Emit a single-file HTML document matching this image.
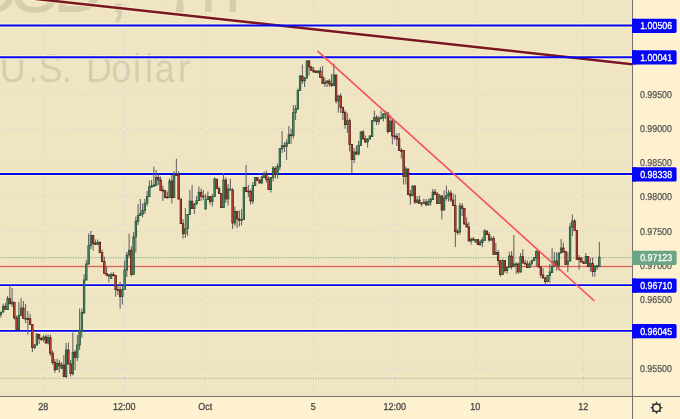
<!DOCTYPE html>
<html><head><meta charset="utf-8"><title>EURUSD chart</title>
<style>
html,body{margin:0;padding:0;background:#fef1cf;}
body{width:680px;height:419px;overflow:hidden;position:relative;font-family:"Liberation Sans",sans-serif;}
svg{position:absolute;left:0;top:0;display:block}
text{font-family:"Liberation Sans",sans-serif;text-rendering:geometricPrecision;}
</style></head><body>
<svg width="680" height="419" viewBox="0 0 680 419">
<rect x="0" y="0" width="680" height="419" fill="#fef1cf"/>
<rect x="0" y="0" width="632" height="396" fill="#efe5c2"/>
<defs><clipPath id="c"><rect x="0" y="0" width="632" height="396"/></clipPath></defs>
<g clip-path="url(#c)">

<clipPath id="w1"><rect x="-60" y="-80" width="224" height="120"/><rect x="176" y="-80" width="7.6" height="120"/><rect x="196.5" y="-80" width="200" height="120"/></clipPath>
<g fill="#000" fill-opacity="0.1">
<g clip-path="url(#w1)"><text transform="translate(0,12.4) scale(0.92,1)" x="-35.9 11.8 57.0 117.6 141.3 172.0 217.4" y="0" font-size="80">USD, 1h</text></g>
<text transform="translate(0,82.3) scale(0.9,1)" x="-0.2 31.4 42.7 68.6 83.3 95.6 123.6 147.8 161.1 171.9 197.9" y="0" font-size="40">U.S. Dollar</text>
</g>
<line x1="43.5" y1="0" x2="43.5" y2="396" stroke="#d5d7db" stroke-width="1" stroke-opacity="0.78" stroke-dasharray="4.4,4.69" stroke-dashoffset="6.1"/>
<line x1="124.5" y1="0" x2="124.5" y2="396" stroke="#d5d7db" stroke-width="1" stroke-opacity="0.78" stroke-dasharray="4.4,4.69" stroke-dashoffset="6.1"/>
<line x1="205.5" y1="0" x2="205.5" y2="396" stroke="#d5d7db" stroke-width="1" stroke-opacity="0.78" stroke-dasharray="4.4,4.69" stroke-dashoffset="6.1"/>
<line x1="313.5" y1="0" x2="313.5" y2="396" stroke="#d5d7db" stroke-width="1" stroke-opacity="0.78" stroke-dasharray="4.4,4.69" stroke-dashoffset="6.1"/>
<line x1="394.5" y1="0" x2="394.5" y2="396" stroke="#d5d7db" stroke-width="1" stroke-opacity="0.78" stroke-dasharray="4.4,4.69" stroke-dashoffset="6.1"/>
<line x1="475.5" y1="0" x2="475.5" y2="396" stroke="#d5d7db" stroke-width="1" stroke-opacity="0.78" stroke-dasharray="4.4,4.69" stroke-dashoffset="6.1"/>
<line x1="583.5" y1="0" x2="583.5" y2="396" stroke="#d5d7db" stroke-width="1" stroke-opacity="0.78" stroke-dasharray="4.4,4.69" stroke-dashoffset="6.1"/>
<line x1="0" y1="25.8" x2="632" y2="25.8" stroke="#d5d7db" stroke-width="1" stroke-opacity="0.78" stroke-dasharray="4.4,4.69" stroke-dashoffset="0.99"/>
<line x1="0" y1="60.0" x2="632" y2="60.0" stroke="#d5d7db" stroke-width="1" stroke-opacity="0.78" stroke-dasharray="4.4,4.69" stroke-dashoffset="0.99"/>
<line x1="0" y1="94.3" x2="632" y2="94.3" stroke="#d5d7db" stroke-width="1" stroke-opacity="0.78" stroke-dasharray="4.4,4.69" stroke-dashoffset="0.99"/>
<line x1="0" y1="128.6" x2="632" y2="128.6" stroke="#d5d7db" stroke-width="1" stroke-opacity="0.78" stroke-dasharray="4.4,4.69" stroke-dashoffset="0.99"/>
<line x1="0" y1="162.8" x2="632" y2="162.8" stroke="#d5d7db" stroke-width="1" stroke-opacity="0.78" stroke-dasharray="4.4,4.69" stroke-dashoffset="0.99"/>
<line x1="0" y1="197.1" x2="632" y2="197.1" stroke="#d5d7db" stroke-width="1" stroke-opacity="0.78" stroke-dasharray="4.4,4.69" stroke-dashoffset="0.99"/>
<line x1="0" y1="231.3" x2="632" y2="231.3" stroke="#d5d7db" stroke-width="1" stroke-opacity="0.78" stroke-dasharray="4.4,4.69" stroke-dashoffset="0.99"/>
<line x1="0" y1="265.6" x2="632" y2="265.6" stroke="#d5d7db" stroke-width="1" stroke-opacity="0.78" stroke-dasharray="4.4,4.69" stroke-dashoffset="0.99"/>
<line x1="0" y1="299.8" x2="632" y2="299.8" stroke="#d5d7db" stroke-width="1" stroke-opacity="0.78" stroke-dasharray="4.4,4.69" stroke-dashoffset="0.99"/>
<line x1="0" y1="334.1" x2="632" y2="334.1" stroke="#d5d7db" stroke-width="1" stroke-opacity="0.78" stroke-dasharray="4.4,4.69" stroke-dashoffset="0.99"/>
<line x1="0" y1="368.3" x2="632" y2="368.3" stroke="#d5d7db" stroke-width="1" stroke-opacity="0.78" stroke-dasharray="4.4,4.69" stroke-dashoffset="0.99"/>
<line x1="0" y1="378.2" x2="632" y2="378.2" stroke="#7d7d80" stroke-opacity="0.7" stroke-width="1.1" stroke-dasharray="1.1,1.4" stroke-dashoffset="1.95"/>
<line x1="0" y1="257.6" x2="632" y2="257.6" stroke="#5a9e7a" stroke-opacity="0.72" stroke-width="1.1" stroke-dasharray="1.1,1.4" stroke-dashoffset="1.95"/>
<line x1="0" y1="25.45" x2="632" y2="25.45" stroke="#fbf2c8" stroke-width="4.5"/>
<line x1="0" y1="57.2" x2="632" y2="57.2" stroke="#fbf2c8" stroke-width="4.5"/>
<line x1="0" y1="174.0" x2="632" y2="174.0" stroke="#fbf2c8" stroke-width="4.5"/>
<line x1="0" y1="285.15" x2="632" y2="285.15" stroke="#fbf2c8" stroke-width="4.5"/>
<line x1="0" y1="330.85" x2="632" y2="330.85" stroke="#fbf2c8" stroke-width="4.5"/>
<line x1="-10" y1="-6.05" x2="632" y2="64.15" stroke="#fbf2c8" stroke-opacity="0.7" stroke-width="4.5"/>
<line x1="0" y1="266.45" x2="632" y2="266.45" stroke="#fbf2c8" stroke-opacity="0.6" stroke-width="3.4"/>
<line x1="-10" y1="-6.05" x2="632" y2="64.15" stroke="#7a1526" stroke-width="2.5"/>
<line x1="0" y1="266.45" x2="632" y2="266.45" stroke="#dc655e" stroke-width="1.4"/>
<line x1="0" y1="25.45" x2="632" y2="25.45" stroke="#0606f6" stroke-width="1.9"/>
<line x1="0" y1="57.2" x2="632" y2="57.2" stroke="#0606f6" stroke-width="1.9"/>
<line x1="0" y1="174.0" x2="632" y2="174.0" stroke="#0606f6" stroke-width="1.9"/>
<line x1="0" y1="285.15" x2="632" y2="285.15" stroke="#0606f6" stroke-width="1.9"/>
<line x1="0" y1="330.85" x2="632" y2="330.85" stroke="#0606f6" stroke-width="1.9"/>
<line x1="0.85" y1="312.0" x2="0.85" y2="317.5" stroke="#5c5c5e" stroke-width="1"/>
<rect x="0.10" y="312.1" width="1.5" height="2.5" fill="#4f9670" stroke="#225437" stroke-width="0.8"/>
<line x1="3.10" y1="303.6" x2="3.10" y2="312.3" stroke="#5c5c5e" stroke-width="1"/>
<rect x="2.35" y="306.3" width="1.5" height="5.8" fill="#4f9670" stroke="#225437" stroke-width="0.8"/>
<line x1="5.35" y1="303.0" x2="5.35" y2="309.8" stroke="#5c5c5e" stroke-width="1"/>
<rect x="4.60" y="306.3" width="1.5" height="3.3" fill="#d04a38" stroke="#5b1a13" stroke-width="0.8"/>
<line x1="7.60" y1="296.0" x2="7.60" y2="309.8" stroke="#5c5c5e" stroke-width="1"/>
<rect x="6.85" y="298.6" width="1.5" height="11.0" fill="#4f9670" stroke="#225437" stroke-width="0.8"/>
<line x1="9.85" y1="285.0" x2="9.85" y2="304.0" stroke="#5c5c5e" stroke-width="1"/>
<rect x="9.10" y="298.6" width="1.5" height="5.2" fill="#d04a38" stroke="#5b1a13" stroke-width="0.8"/>
<line x1="12.10" y1="288.0" x2="12.10" y2="307.0" stroke="#5c5c5e" stroke-width="1"/>
<rect x="11.35" y="302.0" width="1.5" height="2.0" fill="#4f9670" stroke="#225437" stroke-width="0.8"/>
<line x1="14.35" y1="302.0" x2="14.35" y2="319.6" stroke="#5c5c5e" stroke-width="1"/>
<rect x="13.60" y="302.3" width="1.5" height="15.5" fill="#d04a38" stroke="#5b1a13" stroke-width="0.8"/>
<line x1="16.60" y1="315.6" x2="16.60" y2="329.8" stroke="#5c5c5e" stroke-width="1"/>
<rect x="15.85" y="317.8" width="1.5" height="11.8" fill="#d04a38" stroke="#5b1a13" stroke-width="0.8"/>
<line x1="18.85" y1="302.0" x2="18.85" y2="329.8" stroke="#5c5c5e" stroke-width="1"/>
<rect x="18.10" y="315.5" width="1.5" height="14.1" fill="#4f9670" stroke="#225437" stroke-width="0.8"/>
<line x1="21.10" y1="298.0" x2="21.10" y2="315.6" stroke="#5c5c5e" stroke-width="1"/>
<rect x="20.35" y="308.0" width="1.5" height="7.5" fill="#4f9670" stroke="#225437" stroke-width="0.8"/>
<line x1="23.35" y1="301.0" x2="23.35" y2="319.0" stroke="#5c5c5e" stroke-width="1"/>
<rect x="22.60" y="308.0" width="1.5" height="10.5" fill="#d04a38" stroke="#5b1a13" stroke-width="0.8"/>
<line x1="25.60" y1="304.0" x2="25.60" y2="323.0" stroke="#5c5c5e" stroke-width="1"/>
<rect x="24.85" y="318.3" width="1.5" height="1.0" fill="#4f9670" stroke="#225437" stroke-width="0.8"/>
<line x1="27.85" y1="311.0" x2="27.85" y2="334.6" stroke="#5c5c5e" stroke-width="1"/>
<rect x="27.10" y="318.5" width="1.5" height="1.0" fill="#d04a38" stroke="#5b1a13" stroke-width="0.8"/>
<line x1="30.10" y1="314.0" x2="30.10" y2="325.0" stroke="#5c5c5e" stroke-width="1"/>
<rect x="29.35" y="318.8" width="1.5" height="5.7" fill="#d04a38" stroke="#5b1a13" stroke-width="0.8"/>
<line x1="32.35" y1="324.0" x2="32.35" y2="352.0" stroke="#5c5c5e" stroke-width="1"/>
<rect x="31.60" y="324.5" width="1.5" height="23.1" fill="#d04a38" stroke="#5b1a13" stroke-width="0.8"/>
<line x1="34.60" y1="344.0" x2="34.60" y2="349.0" stroke="#5c5c5e" stroke-width="1"/>
<rect x="33.85" y="345.0" width="1.5" height="2.6" fill="#4f9670" stroke="#225437" stroke-width="0.8"/>
<line x1="36.85" y1="333.5" x2="36.85" y2="345.5" stroke="#5c5c5e" stroke-width="1"/>
<rect x="36.10" y="334.0" width="1.5" height="11.0" fill="#4f9670" stroke="#225437" stroke-width="0.8"/>
<line x1="39.10" y1="334.0" x2="39.10" y2="344.0" stroke="#5c5c5e" stroke-width="1"/>
<rect x="38.35" y="334.4" width="1.5" height="4.2" fill="#d04a38" stroke="#5b1a13" stroke-width="0.8"/>
<line x1="41.35" y1="337.0" x2="41.35" y2="341.0" stroke="#5c5c5e" stroke-width="1"/>
<rect x="40.60" y="338.4" width="1.5" height="1.2" fill="#d04a38" stroke="#5b1a13" stroke-width="0.8"/>
<line x1="43.60" y1="335.0" x2="43.60" y2="342.0" stroke="#5c5c5e" stroke-width="1"/>
<rect x="42.85" y="336.9" width="1.5" height="2.7" fill="#4f9670" stroke="#225437" stroke-width="0.8"/>
<line x1="45.85" y1="334.6" x2="45.85" y2="344.0" stroke="#5c5c5e" stroke-width="1"/>
<rect x="45.10" y="336.9" width="1.5" height="6.0" fill="#d04a38" stroke="#5b1a13" stroke-width="0.8"/>
<line x1="48.10" y1="334.6" x2="48.10" y2="344.6" stroke="#5c5c5e" stroke-width="1"/>
<rect x="47.35" y="337.6" width="1.5" height="5.3" fill="#4f9670" stroke="#225437" stroke-width="0.8"/>
<line x1="50.35" y1="334.6" x2="50.35" y2="356.0" stroke="#5c5c5e" stroke-width="1"/>
<rect x="49.60" y="337.6" width="1.5" height="15.9" fill="#d04a38" stroke="#5b1a13" stroke-width="0.8"/>
<line x1="52.60" y1="350.5" x2="52.60" y2="364.6" stroke="#5c5c5e" stroke-width="1"/>
<rect x="51.85" y="353.0" width="1.5" height="9.6" fill="#d04a38" stroke="#5b1a13" stroke-width="0.8"/>
<line x1="54.85" y1="359.0" x2="54.85" y2="373.0" stroke="#5c5c5e" stroke-width="1"/>
<rect x="54.10" y="362.3" width="1.5" height="7.6" fill="#d04a38" stroke="#5b1a13" stroke-width="0.8"/>
<line x1="57.10" y1="358.9" x2="57.10" y2="370.0" stroke="#5c5c5e" stroke-width="1"/>
<rect x="56.35" y="363.3" width="1.5" height="6.3" fill="#4f9670" stroke="#225437" stroke-width="0.8"/>
<line x1="59.35" y1="360.0" x2="59.35" y2="372.6" stroke="#5c5c5e" stroke-width="1"/>
<rect x="58.60" y="363.3" width="1.5" height="2.7" fill="#d04a38" stroke="#5b1a13" stroke-width="0.8"/>
<line x1="61.60" y1="362.0" x2="61.60" y2="369.0" stroke="#5c5c5e" stroke-width="1"/>
<rect x="60.85" y="365.0" width="1.5" height="3.3" fill="#4f9670" stroke="#225437" stroke-width="0.8"/>
<line x1="63.85" y1="355.0" x2="63.85" y2="377.0" stroke="#5c5c5e" stroke-width="1"/>
<rect x="63.10" y="365.0" width="1.5" height="11.6" fill="#d04a38" stroke="#5b1a13" stroke-width="0.8"/>
<line x1="66.10" y1="343.0" x2="66.10" y2="378.0" stroke="#5c5c5e" stroke-width="1"/>
<rect x="65.35" y="350.0" width="1.5" height="26.6" fill="#4f9670" stroke="#225437" stroke-width="0.8"/>
<line x1="68.35" y1="342.5" x2="68.35" y2="364.5" stroke="#5c5c5e" stroke-width="1"/>
<rect x="67.60" y="350.0" width="1.5" height="14.0" fill="#d04a38" stroke="#5b1a13" stroke-width="0.8"/>
<line x1="70.60" y1="360.0" x2="70.60" y2="376.6" stroke="#5c5c5e" stroke-width="1"/>
<rect x="69.85" y="364.0" width="1.5" height="9.6" fill="#d04a38" stroke="#5b1a13" stroke-width="0.8"/>
<line x1="72.85" y1="332.6" x2="72.85" y2="375.5" stroke="#5c5c5e" stroke-width="1"/>
<rect x="72.10" y="352.2" width="1.5" height="21.4" fill="#4f9670" stroke="#225437" stroke-width="0.8"/>
<line x1="75.10" y1="350.0" x2="75.10" y2="370.0" stroke="#5c5c5e" stroke-width="1"/>
<rect x="74.35" y="352.2" width="1.5" height="5.3" fill="#d04a38" stroke="#5b1a13" stroke-width="0.8"/>
<line x1="77.35" y1="335.0" x2="77.35" y2="361.0" stroke="#5c5c5e" stroke-width="1"/>
<rect x="76.60" y="345.0" width="1.5" height="12.5" fill="#4f9670" stroke="#225437" stroke-width="0.8"/>
<line x1="79.60" y1="308.5" x2="79.60" y2="350.0" stroke="#5c5c5e" stroke-width="1"/>
<rect x="78.85" y="330.6" width="1.5" height="14.4" fill="#4f9670" stroke="#225437" stroke-width="0.8"/>
<line x1="81.85" y1="308.5" x2="81.85" y2="337.6" stroke="#5c5c5e" stroke-width="1"/>
<rect x="81.10" y="312.5" width="1.5" height="18.5" fill="#4f9670" stroke="#225437" stroke-width="0.8"/>
<line x1="84.10" y1="274.0" x2="84.10" y2="313.5" stroke="#5c5c5e" stroke-width="1"/>
<rect x="83.35" y="280.0" width="1.5" height="33.0" fill="#4f9670" stroke="#225437" stroke-width="0.8"/>
<line x1="86.35" y1="260.0" x2="86.35" y2="280.5" stroke="#5c5c5e" stroke-width="1"/>
<rect x="85.60" y="264.0" width="1.5" height="16.0" fill="#4f9670" stroke="#225437" stroke-width="0.8"/>
<line x1="88.60" y1="233.5" x2="88.60" y2="264.5" stroke="#5c5c5e" stroke-width="1"/>
<rect x="87.85" y="245.6" width="1.5" height="18.4" fill="#4f9670" stroke="#225437" stroke-width="0.8"/>
<line x1="90.85" y1="231.0" x2="90.85" y2="249.0" stroke="#5c5c5e" stroke-width="1"/>
<rect x="90.10" y="235.5" width="1.5" height="10.1" fill="#4f9670" stroke="#225437" stroke-width="0.8"/>
<line x1="93.10" y1="235.0" x2="93.10" y2="250.6" stroke="#5c5c5e" stroke-width="1"/>
<rect x="92.35" y="235.5" width="1.5" height="8.0" fill="#d04a38" stroke="#5b1a13" stroke-width="0.8"/>
<line x1="95.35" y1="239.5" x2="95.35" y2="245.0" stroke="#5c5c5e" stroke-width="1"/>
<rect x="94.60" y="243.0" width="1.5" height="1.5" fill="#d04a38" stroke="#5b1a13" stroke-width="0.8"/>
<line x1="97.60" y1="239.5" x2="97.60" y2="245.0" stroke="#5c5c5e" stroke-width="1"/>
<rect x="96.85" y="242.5" width="1.5" height="1.7" fill="#4f9670" stroke="#225437" stroke-width="0.8"/>
<line x1="99.85" y1="241.0" x2="99.85" y2="253.0" stroke="#5c5c5e" stroke-width="1"/>
<rect x="99.10" y="242.5" width="1.5" height="10.1" fill="#d04a38" stroke="#5b1a13" stroke-width="0.8"/>
<line x1="102.10" y1="249.6" x2="102.10" y2="262.0" stroke="#5c5c5e" stroke-width="1"/>
<rect x="101.35" y="252.6" width="1.5" height="9.0" fill="#d04a38" stroke="#5b1a13" stroke-width="0.8"/>
<line x1="104.35" y1="256.6" x2="104.35" y2="274.0" stroke="#5c5c5e" stroke-width="1"/>
<rect x="103.60" y="261.6" width="1.5" height="11.9" fill="#d04a38" stroke="#5b1a13" stroke-width="0.8"/>
<line x1="106.60" y1="266.0" x2="106.60" y2="276.0" stroke="#5c5c5e" stroke-width="1"/>
<rect x="105.85" y="273.5" width="1.5" height="2.0" fill="#d04a38" stroke="#5b1a13" stroke-width="0.8"/>
<line x1="108.85" y1="274.0" x2="108.85" y2="282.5" stroke="#5c5c5e" stroke-width="1"/>
<rect x="108.10" y="275.0" width="1.5" height="1.0" fill="#d04a38" stroke="#5b1a13" stroke-width="0.8"/>
<line x1="111.10" y1="272.5" x2="111.10" y2="279.0" stroke="#5c5c5e" stroke-width="1"/>
<rect x="110.35" y="274.5" width="1.5" height="4.0" fill="#4f9670" stroke="#225437" stroke-width="0.8"/>
<line x1="113.35" y1="272.0" x2="113.35" y2="276.0" stroke="#5c5c5e" stroke-width="1"/>
<rect x="112.60" y="274.5" width="1.5" height="1.3" fill="#d04a38" stroke="#5b1a13" stroke-width="0.8"/>
<line x1="115.60" y1="275.0" x2="115.60" y2="296.6" stroke="#5c5c5e" stroke-width="1"/>
<rect x="114.85" y="275.5" width="1.5" height="14.1" fill="#d04a38" stroke="#5b1a13" stroke-width="0.8"/>
<line x1="117.85" y1="285.5" x2="117.85" y2="295.0" stroke="#5c5c5e" stroke-width="1"/>
<rect x="117.10" y="289.6" width="1.5" height="1.0" fill="#d04a38" stroke="#5b1a13" stroke-width="0.8"/>
<line x1="120.10" y1="282.0" x2="120.10" y2="308.5" stroke="#5c5c5e" stroke-width="1"/>
<rect x="119.35" y="289.9" width="1.5" height="6.7" fill="#d04a38" stroke="#5b1a13" stroke-width="0.8"/>
<line x1="122.35" y1="286.0" x2="122.35" y2="304.5" stroke="#5c5c5e" stroke-width="1"/>
<rect x="121.60" y="289.6" width="1.5" height="7.0" fill="#4f9670" stroke="#225437" stroke-width="0.8"/>
<line x1="124.60" y1="260.6" x2="124.60" y2="290.0" stroke="#5c5c5e" stroke-width="1"/>
<rect x="123.85" y="270.0" width="1.5" height="19.6" fill="#4f9670" stroke="#225437" stroke-width="0.8"/>
<line x1="126.85" y1="252.0" x2="126.85" y2="277.0" stroke="#5c5c5e" stroke-width="1"/>
<rect x="126.10" y="255.0" width="1.5" height="15.0" fill="#4f9670" stroke="#225437" stroke-width="0.8"/>
<line x1="129.10" y1="233.5" x2="129.10" y2="258.0" stroke="#5c5c5e" stroke-width="1"/>
<rect x="128.35" y="250.3" width="1.5" height="4.7" fill="#4f9670" stroke="#225437" stroke-width="0.8"/>
<line x1="131.35" y1="246.5" x2="131.35" y2="276.5" stroke="#5c5c5e" stroke-width="1"/>
<rect x="130.60" y="250.3" width="1.5" height="24.2" fill="#d04a38" stroke="#5b1a13" stroke-width="0.8"/>
<line x1="133.60" y1="232.0" x2="133.60" y2="275.0" stroke="#5c5c5e" stroke-width="1"/>
<rect x="132.85" y="237.0" width="1.5" height="37.5" fill="#4f9670" stroke="#225437" stroke-width="0.8"/>
<line x1="135.85" y1="216.5" x2="135.85" y2="252.5" stroke="#5c5c5e" stroke-width="1"/>
<rect x="135.10" y="221.0" width="1.5" height="16.0" fill="#4f9670" stroke="#225437" stroke-width="0.8"/>
<line x1="138.10" y1="204.0" x2="138.10" y2="225.0" stroke="#5c5c5e" stroke-width="1"/>
<rect x="137.35" y="215.4" width="1.5" height="6.2" fill="#4f9670" stroke="#225437" stroke-width="0.8"/>
<line x1="140.35" y1="199.0" x2="140.35" y2="216.0" stroke="#5c5c5e" stroke-width="1"/>
<rect x="139.60" y="213.5" width="1.5" height="1.9" fill="#4f9670" stroke="#225437" stroke-width="0.8"/>
<line x1="142.60" y1="203.5" x2="142.60" y2="217.5" stroke="#5c5c5e" stroke-width="1"/>
<rect x="141.85" y="210.5" width="1.5" height="3.5" fill="#4f9670" stroke="#225437" stroke-width="0.8"/>
<line x1="144.85" y1="199.0" x2="144.85" y2="214.0" stroke="#5c5c5e" stroke-width="1"/>
<rect x="144.10" y="203.2" width="1.5" height="7.3" fill="#4f9670" stroke="#225437" stroke-width="0.8"/>
<line x1="147.10" y1="191.0" x2="147.10" y2="206.0" stroke="#5c5c5e" stroke-width="1"/>
<rect x="146.35" y="196.6" width="1.5" height="6.6" fill="#4f9670" stroke="#225437" stroke-width="0.8"/>
<line x1="149.35" y1="180.5" x2="149.35" y2="197.0" stroke="#5c5c5e" stroke-width="1"/>
<rect x="148.60" y="186.6" width="1.5" height="10.0" fill="#4f9670" stroke="#225437" stroke-width="0.8"/>
<line x1="151.60" y1="180.0" x2="151.60" y2="188.0" stroke="#5c5c5e" stroke-width="1"/>
<rect x="150.85" y="185.6" width="1.5" height="1.4" fill="#4f9670" stroke="#225437" stroke-width="0.8"/>
<line x1="153.85" y1="166.5" x2="153.85" y2="187.0" stroke="#5c5c5e" stroke-width="1"/>
<rect x="153.10" y="185.0" width="1.5" height="1.3" fill="#4f9670" stroke="#225437" stroke-width="0.8"/>
<line x1="156.10" y1="170.0" x2="156.10" y2="186.0" stroke="#5c5c5e" stroke-width="1"/>
<rect x="155.35" y="177.5" width="1.5" height="8.1" fill="#4f9670" stroke="#225437" stroke-width="0.8"/>
<line x1="158.35" y1="174.5" x2="158.35" y2="185.0" stroke="#5c5c5e" stroke-width="1"/>
<rect x="157.60" y="177.5" width="1.5" height="2.5" fill="#d04a38" stroke="#5b1a13" stroke-width="0.8"/>
<line x1="160.60" y1="176.5" x2="160.60" y2="191.0" stroke="#5c5c5e" stroke-width="1"/>
<rect x="159.85" y="180.0" width="1.5" height="10.6" fill="#d04a38" stroke="#5b1a13" stroke-width="0.8"/>
<line x1="162.85" y1="185.6" x2="162.85" y2="201.0" stroke="#5c5c5e" stroke-width="1"/>
<rect x="162.10" y="190.0" width="1.5" height="1.0" fill="#d04a38" stroke="#5b1a13" stroke-width="0.8"/>
<line x1="165.10" y1="190.0" x2="165.10" y2="198.0" stroke="#5c5c5e" stroke-width="1"/>
<rect x="164.35" y="190.6" width="1.5" height="7.0" fill="#d04a38" stroke="#5b1a13" stroke-width="0.8"/>
<line x1="167.35" y1="191.5" x2="167.35" y2="198.0" stroke="#5c5c5e" stroke-width="1"/>
<rect x="166.60" y="197.0" width="1.5" height="1.0" fill="#d04a38" stroke="#5b1a13" stroke-width="0.8"/>
<line x1="169.60" y1="178.5" x2="169.60" y2="198.0" stroke="#5c5c5e" stroke-width="1"/>
<rect x="168.85" y="181.0" width="1.5" height="16.6" fill="#4f9670" stroke="#225437" stroke-width="0.8"/>
<line x1="171.85" y1="175.0" x2="171.85" y2="203.5" stroke="#5c5c5e" stroke-width="1"/>
<rect x="171.10" y="181.0" width="1.5" height="16.6" fill="#d04a38" stroke="#5b1a13" stroke-width="0.8"/>
<line x1="174.10" y1="171.0" x2="174.10" y2="198.0" stroke="#5c5c5e" stroke-width="1"/>
<rect x="173.35" y="174.5" width="1.5" height="23.1" fill="#4f9670" stroke="#225437" stroke-width="0.8"/>
<line x1="176.35" y1="158.7" x2="176.35" y2="176.0" stroke="#5c5c5e" stroke-width="1"/>
<rect x="175.60" y="174.5" width="1.5" height="1.0" fill="#d04a38" stroke="#5b1a13" stroke-width="0.8"/>
<line x1="178.60" y1="171.0" x2="178.60" y2="199.5" stroke="#5c5c5e" stroke-width="1"/>
<rect x="177.85" y="175.0" width="1.5" height="24.0" fill="#d04a38" stroke="#5b1a13" stroke-width="0.8"/>
<line x1="180.85" y1="199.0" x2="180.85" y2="224.0" stroke="#5c5c5e" stroke-width="1"/>
<rect x="180.10" y="199.0" width="1.5" height="24.6" fill="#d04a38" stroke="#5b1a13" stroke-width="0.8"/>
<line x1="183.10" y1="219.0" x2="183.10" y2="238.5" stroke="#5c5c5e" stroke-width="1"/>
<rect x="182.35" y="223.6" width="1.5" height="10.0" fill="#d04a38" stroke="#5b1a13" stroke-width="0.8"/>
<line x1="185.35" y1="208.0" x2="185.35" y2="238.0" stroke="#5c5c5e" stroke-width="1"/>
<rect x="184.60" y="228.6" width="1.5" height="5.0" fill="#4f9670" stroke="#225437" stroke-width="0.8"/>
<line x1="187.60" y1="214.0" x2="187.60" y2="236.0" stroke="#5c5c5e" stroke-width="1"/>
<rect x="186.85" y="214.5" width="1.5" height="14.1" fill="#4f9670" stroke="#225437" stroke-width="0.8"/>
<line x1="189.85" y1="190.0" x2="189.85" y2="215.0" stroke="#5c5c5e" stroke-width="1"/>
<rect x="189.10" y="201.0" width="1.5" height="13.5" fill="#4f9670" stroke="#225437" stroke-width="0.8"/>
<line x1="192.10" y1="185.0" x2="192.10" y2="209.0" stroke="#5c5c5e" stroke-width="1"/>
<rect x="191.35" y="201.3" width="1.5" height="7.3" fill="#d04a38" stroke="#5b1a13" stroke-width="0.8"/>
<line x1="194.35" y1="203.0" x2="194.35" y2="214.0" stroke="#5c5c5e" stroke-width="1"/>
<rect x="193.60" y="204.0" width="1.5" height="4.6" fill="#4f9670" stroke="#225437" stroke-width="0.8"/>
<line x1="196.60" y1="196.0" x2="196.60" y2="204.5" stroke="#5c5c5e" stroke-width="1"/>
<rect x="195.85" y="200.6" width="1.5" height="3.4" fill="#4f9670" stroke="#225437" stroke-width="0.8"/>
<line x1="198.85" y1="186.5" x2="198.85" y2="201.0" stroke="#5c5c5e" stroke-width="1"/>
<rect x="198.10" y="192.3" width="1.5" height="8.3" fill="#4f9670" stroke="#225437" stroke-width="0.8"/>
<line x1="201.10" y1="188.5" x2="201.10" y2="201.0" stroke="#5c5c5e" stroke-width="1"/>
<rect x="200.35" y="192.3" width="1.5" height="4.0" fill="#d04a38" stroke="#5b1a13" stroke-width="0.8"/>
<line x1="203.35" y1="190.0" x2="203.35" y2="200.0" stroke="#5c5c5e" stroke-width="1"/>
<rect x="202.60" y="196.0" width="1.5" height="1.0" fill="#d04a38" stroke="#5b1a13" stroke-width="0.8"/>
<line x1="205.60" y1="194.0" x2="205.60" y2="209.3" stroke="#5c5c5e" stroke-width="1"/>
<rect x="204.85" y="199.6" width="1.5" height="9.4" fill="#4f9670" stroke="#225437" stroke-width="0.8"/>
<line x1="207.85" y1="191.5" x2="207.85" y2="200.0" stroke="#5c5c5e" stroke-width="1"/>
<rect x="207.10" y="196.6" width="1.5" height="3.0" fill="#4f9670" stroke="#225437" stroke-width="0.8"/>
<line x1="210.10" y1="196.0" x2="210.10" y2="204.5" stroke="#5c5c5e" stroke-width="1"/>
<rect x="209.35" y="196.6" width="1.5" height="5.0" fill="#d04a38" stroke="#5b1a13" stroke-width="0.8"/>
<line x1="212.35" y1="194.0" x2="212.35" y2="206.5" stroke="#5c5c5e" stroke-width="1"/>
<rect x="211.60" y="196.6" width="1.5" height="5.0" fill="#4f9670" stroke="#225437" stroke-width="0.8"/>
<line x1="214.60" y1="177.5" x2="214.60" y2="197.0" stroke="#5c5c5e" stroke-width="1"/>
<rect x="213.85" y="179.0" width="1.5" height="17.6" fill="#4f9670" stroke="#225437" stroke-width="0.8"/>
<line x1="216.85" y1="179.0" x2="216.85" y2="189.0" stroke="#5c5c5e" stroke-width="1"/>
<rect x="216.10" y="179.2" width="1.5" height="9.4" fill="#d04a38" stroke="#5b1a13" stroke-width="0.8"/>
<line x1="219.10" y1="186.5" x2="219.10" y2="194.0" stroke="#5c5c5e" stroke-width="1"/>
<rect x="218.35" y="188.6" width="1.5" height="5.0" fill="#d04a38" stroke="#5b1a13" stroke-width="0.8"/>
<line x1="221.35" y1="193.0" x2="221.35" y2="208.0" stroke="#5c5c5e" stroke-width="1"/>
<rect x="220.60" y="193.6" width="1.5" height="14.0" fill="#d04a38" stroke="#5b1a13" stroke-width="0.8"/>
<line x1="223.60" y1="173.0" x2="223.60" y2="208.0" stroke="#5c5c5e" stroke-width="1"/>
<rect x="222.85" y="180.0" width="1.5" height="27.6" fill="#4f9670" stroke="#225437" stroke-width="0.8"/>
<line x1="225.85" y1="177.5" x2="225.85" y2="203.0" stroke="#5c5c5e" stroke-width="1"/>
<rect x="225.10" y="180.0" width="1.5" height="19.0" fill="#d04a38" stroke="#5b1a13" stroke-width="0.8"/>
<line x1="228.10" y1="184.0" x2="228.10" y2="205.6" stroke="#5c5c5e" stroke-width="1"/>
<rect x="227.35" y="189.0" width="1.5" height="10.0" fill="#4f9670" stroke="#225437" stroke-width="0.8"/>
<line x1="230.35" y1="178.5" x2="230.35" y2="191.0" stroke="#5c5c5e" stroke-width="1"/>
<rect x="229.60" y="189.0" width="1.5" height="1.0" fill="#4f9670" stroke="#225437" stroke-width="0.8"/>
<line x1="232.60" y1="188.0" x2="232.60" y2="229.0" stroke="#5c5c5e" stroke-width="1"/>
<rect x="231.85" y="190.0" width="1.5" height="33.0" fill="#d04a38" stroke="#5b1a13" stroke-width="0.8"/>
<line x1="234.85" y1="206.5" x2="234.85" y2="226.0" stroke="#5c5c5e" stroke-width="1"/>
<rect x="234.10" y="211.5" width="1.5" height="11.5" fill="#4f9670" stroke="#225437" stroke-width="0.8"/>
<line x1="237.10" y1="211.0" x2="237.10" y2="228.0" stroke="#5c5c5e" stroke-width="1"/>
<rect x="236.35" y="211.5" width="1.5" height="7.5" fill="#d04a38" stroke="#5b1a13" stroke-width="0.8"/>
<line x1="239.35" y1="210.5" x2="239.35" y2="226.5" stroke="#5c5c5e" stroke-width="1"/>
<rect x="238.60" y="219.0" width="1.5" height="1.5" fill="#d04a38" stroke="#5b1a13" stroke-width="0.8"/>
<line x1="241.60" y1="209.0" x2="241.60" y2="225.5" stroke="#5c5c5e" stroke-width="1"/>
<rect x="240.85" y="219.5" width="1.5" height="1.0" fill="#4f9670" stroke="#225437" stroke-width="0.8"/>
<line x1="243.85" y1="187.0" x2="243.85" y2="220.0" stroke="#5c5c5e" stroke-width="1"/>
<rect x="243.10" y="187.5" width="1.5" height="32.0" fill="#4f9670" stroke="#225437" stroke-width="0.8"/>
<line x1="246.10" y1="165.0" x2="246.10" y2="192.0" stroke="#5c5c5e" stroke-width="1"/>
<rect x="245.35" y="187.5" width="1.5" height="4.0" fill="#d04a38" stroke="#5b1a13" stroke-width="0.8"/>
<line x1="248.35" y1="185.0" x2="248.35" y2="197.0" stroke="#5c5c5e" stroke-width="1"/>
<rect x="247.60" y="191.0" width="1.5" height="1.0" fill="#d04a38" stroke="#5b1a13" stroke-width="0.8"/>
<line x1="250.60" y1="189.5" x2="250.60" y2="204.6" stroke="#5c5c5e" stroke-width="1"/>
<rect x="249.85" y="191.5" width="1.5" height="9.5" fill="#d04a38" stroke="#5b1a13" stroke-width="0.8"/>
<line x1="252.85" y1="182.0" x2="252.85" y2="204.0" stroke="#5c5c5e" stroke-width="1"/>
<rect x="252.10" y="185.6" width="1.5" height="15.4" fill="#4f9670" stroke="#225437" stroke-width="0.8"/>
<line x1="255.10" y1="177.0" x2="255.10" y2="186.0" stroke="#5c5c5e" stroke-width="1"/>
<rect x="254.35" y="177.5" width="1.5" height="8.1" fill="#4f9670" stroke="#225437" stroke-width="0.8"/>
<line x1="257.35" y1="177.0" x2="257.35" y2="181.0" stroke="#5c5c5e" stroke-width="1"/>
<rect x="256.60" y="177.5" width="1.5" height="3.0" fill="#d04a38" stroke="#5b1a13" stroke-width="0.8"/>
<line x1="259.60" y1="179.5" x2="259.60" y2="183.5" stroke="#5c5c5e" stroke-width="1"/>
<rect x="258.85" y="180.0" width="1.5" height="3.0" fill="#d04a38" stroke="#5b1a13" stroke-width="0.8"/>
<line x1="261.85" y1="175.5" x2="261.85" y2="183.5" stroke="#5c5c5e" stroke-width="1"/>
<rect x="261.10" y="177.0" width="1.5" height="6.0" fill="#4f9670" stroke="#225437" stroke-width="0.8"/>
<line x1="264.10" y1="171.5" x2="264.10" y2="178.0" stroke="#5c5c5e" stroke-width="1"/>
<rect x="263.35" y="174.0" width="1.5" height="3.5" fill="#4f9670" stroke="#225437" stroke-width="0.8"/>
<line x1="266.35" y1="170.5" x2="266.35" y2="182.5" stroke="#5c5c5e" stroke-width="1"/>
<rect x="265.60" y="174.0" width="1.5" height="5.5" fill="#d04a38" stroke="#5b1a13" stroke-width="0.8"/>
<line x1="268.60" y1="176.5" x2="268.60" y2="190.0" stroke="#5c5c5e" stroke-width="1"/>
<rect x="267.85" y="179.0" width="1.5" height="10.6" fill="#d04a38" stroke="#5b1a13" stroke-width="0.8"/>
<line x1="270.85" y1="177.0" x2="270.85" y2="192.6" stroke="#5c5c5e" stroke-width="1"/>
<rect x="270.10" y="177.5" width="1.5" height="12.1" fill="#4f9670" stroke="#225437" stroke-width="0.8"/>
<line x1="273.10" y1="166.0" x2="273.10" y2="181.5" stroke="#5c5c5e" stroke-width="1"/>
<rect x="272.35" y="168.0" width="1.5" height="9.5" fill="#4f9670" stroke="#225437" stroke-width="0.8"/>
<line x1="275.35" y1="166.5" x2="275.35" y2="178.5" stroke="#5c5c5e" stroke-width="1"/>
<rect x="274.60" y="168.5" width="1.5" height="6.0" fill="#d04a38" stroke="#5b1a13" stroke-width="0.8"/>
<line x1="277.60" y1="163.5" x2="277.60" y2="178.5" stroke="#5c5c5e" stroke-width="1"/>
<rect x="276.85" y="166.5" width="1.5" height="8.0" fill="#4f9670" stroke="#225437" stroke-width="0.8"/>
<line x1="279.85" y1="148.0" x2="279.85" y2="170.0" stroke="#5c5c5e" stroke-width="1"/>
<rect x="279.10" y="148.6" width="1.5" height="18.2" fill="#4f9670" stroke="#225437" stroke-width="0.8"/>
<line x1="282.10" y1="131.0" x2="282.10" y2="153.0" stroke="#5c5c5e" stroke-width="1"/>
<rect x="281.35" y="145.6" width="1.5" height="3.0" fill="#4f9670" stroke="#225437" stroke-width="0.8"/>
<line x1="284.35" y1="142.0" x2="284.35" y2="152.0" stroke="#5c5c5e" stroke-width="1"/>
<rect x="283.60" y="145.6" width="1.5" height="1.0" fill="#d04a38" stroke="#5b1a13" stroke-width="0.8"/>
<line x1="286.60" y1="139.5" x2="286.60" y2="160.0" stroke="#5c5c5e" stroke-width="1"/>
<rect x="285.85" y="143.0" width="1.5" height="3.3" fill="#4f9670" stroke="#225437" stroke-width="0.8"/>
<line x1="288.85" y1="126.0" x2="288.85" y2="144.0" stroke="#5c5c5e" stroke-width="1"/>
<rect x="288.10" y="134.8" width="1.5" height="8.5" fill="#4f9670" stroke="#225437" stroke-width="0.8"/>
<line x1="291.10" y1="129.0" x2="291.10" y2="144.0" stroke="#5c5c5e" stroke-width="1"/>
<rect x="290.35" y="134.8" width="1.5" height="1.0" fill="#d04a38" stroke="#5b1a13" stroke-width="0.8"/>
<line x1="293.35" y1="105.0" x2="293.35" y2="138.5" stroke="#5c5c5e" stroke-width="1"/>
<rect x="292.60" y="112.6" width="1.5" height="22.9" fill="#4f9670" stroke="#225437" stroke-width="0.8"/>
<line x1="295.60" y1="105.0" x2="295.60" y2="120.0" stroke="#5c5c5e" stroke-width="1"/>
<rect x="294.85" y="108.6" width="1.5" height="4.0" fill="#4f9670" stroke="#225437" stroke-width="0.8"/>
<line x1="297.85" y1="88.5" x2="297.85" y2="109.5" stroke="#5c5c5e" stroke-width="1"/>
<rect x="297.10" y="90.5" width="1.5" height="18.5" fill="#4f9670" stroke="#225437" stroke-width="0.8"/>
<line x1="300.10" y1="75.0" x2="300.10" y2="91.0" stroke="#5c5c5e" stroke-width="1"/>
<rect x="299.35" y="76.0" width="1.5" height="14.5" fill="#4f9670" stroke="#225437" stroke-width="0.8"/>
<line x1="302.35" y1="64.5" x2="302.35" y2="84.0" stroke="#5c5c5e" stroke-width="1"/>
<rect x="301.60" y="76.0" width="1.5" height="5.0" fill="#d04a38" stroke="#5b1a13" stroke-width="0.8"/>
<line x1="304.60" y1="77.0" x2="304.60" y2="87.0" stroke="#5c5c5e" stroke-width="1"/>
<rect x="303.85" y="78.0" width="1.5" height="3.0" fill="#4f9670" stroke="#225437" stroke-width="0.8"/>
<line x1="306.85" y1="60.0" x2="306.85" y2="78.5" stroke="#5c5c5e" stroke-width="1"/>
<rect x="306.10" y="61.0" width="1.5" height="17.0" fill="#4f9670" stroke="#225437" stroke-width="0.8"/>
<line x1="309.10" y1="60.0" x2="309.10" y2="75.5" stroke="#5c5c5e" stroke-width="1"/>
<rect x="308.35" y="61.0" width="1.5" height="6.0" fill="#d04a38" stroke="#5b1a13" stroke-width="0.8"/>
<line x1="311.35" y1="66.0" x2="311.35" y2="71.0" stroke="#5c5c5e" stroke-width="1"/>
<rect x="310.60" y="67.0" width="1.5" height="3.5" fill="#d04a38" stroke="#5b1a13" stroke-width="0.8"/>
<line x1="313.60" y1="67.0" x2="313.60" y2="72.5" stroke="#5c5c5e" stroke-width="1"/>
<rect x="312.85" y="70.5" width="1.5" height="1.5" fill="#d04a38" stroke="#5b1a13" stroke-width="0.8"/>
<line x1="315.85" y1="70.0" x2="315.85" y2="73.0" stroke="#5c5c5e" stroke-width="1"/>
<rect x="315.10" y="71.5" width="1.5" height="1.0" fill="#d04a38" stroke="#5b1a13" stroke-width="0.8"/>
<line x1="318.10" y1="70.0" x2="318.10" y2="73.5" stroke="#5c5c5e" stroke-width="1"/>
<rect x="317.35" y="71.0" width="1.5" height="1.5" fill="#4f9670" stroke="#225437" stroke-width="0.8"/>
<line x1="320.35" y1="67.0" x2="320.35" y2="78.0" stroke="#5c5c5e" stroke-width="1"/>
<rect x="319.60" y="71.0" width="1.5" height="6.5" fill="#d04a38" stroke="#5b1a13" stroke-width="0.8"/>
<line x1="322.60" y1="66.0" x2="322.60" y2="84.0" stroke="#5c5c5e" stroke-width="1"/>
<rect x="321.85" y="77.0" width="1.5" height="6.6" fill="#d04a38" stroke="#5b1a13" stroke-width="0.8"/>
<line x1="324.85" y1="77.5" x2="324.85" y2="87.0" stroke="#5c5c5e" stroke-width="1"/>
<rect x="324.10" y="82.0" width="1.5" height="1.6" fill="#4f9670" stroke="#225437" stroke-width="0.8"/>
<line x1="327.10" y1="80.0" x2="327.10" y2="87.0" stroke="#5c5c5e" stroke-width="1"/>
<rect x="326.35" y="81.0" width="1.5" height="1.6" fill="#4f9670" stroke="#225437" stroke-width="0.8"/>
<line x1="329.35" y1="79.0" x2="329.35" y2="86.6" stroke="#5c5c5e" stroke-width="1"/>
<rect x="328.60" y="81.0" width="1.5" height="3.0" fill="#d04a38" stroke="#5b1a13" stroke-width="0.8"/>
<line x1="331.60" y1="74.0" x2="331.60" y2="87.0" stroke="#5c5c5e" stroke-width="1"/>
<rect x="330.85" y="83.6" width="1.5" height="2.0" fill="#d04a38" stroke="#5b1a13" stroke-width="0.8"/>
<line x1="333.85" y1="63.5" x2="333.85" y2="86.0" stroke="#5c5c5e" stroke-width="1"/>
<rect x="333.10" y="75.0" width="1.5" height="10.6" fill="#4f9670" stroke="#225437" stroke-width="0.8"/>
<line x1="336.10" y1="74.5" x2="336.10" y2="103.5" stroke="#5c5c5e" stroke-width="1"/>
<rect x="335.35" y="75.0" width="1.5" height="26.0" fill="#d04a38" stroke="#5b1a13" stroke-width="0.8"/>
<line x1="338.35" y1="95.0" x2="338.35" y2="112.6" stroke="#5c5c5e" stroke-width="1"/>
<rect x="337.60" y="96.0" width="1.5" height="5.0" fill="#4f9670" stroke="#225437" stroke-width="0.8"/>
<line x1="340.60" y1="93.5" x2="340.60" y2="113.0" stroke="#5c5c5e" stroke-width="1"/>
<rect x="339.85" y="96.0" width="1.5" height="11.3" fill="#d04a38" stroke="#5b1a13" stroke-width="0.8"/>
<line x1="342.85" y1="107.0" x2="342.85" y2="120.0" stroke="#5c5c5e" stroke-width="1"/>
<rect x="342.10" y="107.3" width="1.5" height="5.2" fill="#d04a38" stroke="#5b1a13" stroke-width="0.8"/>
<line x1="345.10" y1="110.0" x2="345.10" y2="128.6" stroke="#5c5c5e" stroke-width="1"/>
<rect x="344.35" y="112.5" width="1.5" height="12.1" fill="#d04a38" stroke="#5b1a13" stroke-width="0.8"/>
<line x1="347.35" y1="113.0" x2="347.35" y2="133.0" stroke="#5c5c5e" stroke-width="1"/>
<rect x="346.60" y="120.6" width="1.5" height="4.0" fill="#4f9670" stroke="#225437" stroke-width="0.8"/>
<line x1="349.60" y1="118.5" x2="349.60" y2="151.5" stroke="#5c5c5e" stroke-width="1"/>
<rect x="348.85" y="120.6" width="1.5" height="23.9" fill="#d04a38" stroke="#5b1a13" stroke-width="0.8"/>
<line x1="351.85" y1="144.0" x2="351.85" y2="173.0" stroke="#5c5c5e" stroke-width="1"/>
<rect x="351.10" y="144.5" width="1.5" height="15.1" fill="#d04a38" stroke="#5b1a13" stroke-width="0.8"/>
<line x1="354.10" y1="148.0" x2="354.10" y2="163.0" stroke="#5c5c5e" stroke-width="1"/>
<rect x="353.35" y="152.0" width="1.5" height="7.6" fill="#4f9670" stroke="#225437" stroke-width="0.8"/>
<line x1="356.35" y1="145.5" x2="356.35" y2="155.0" stroke="#5c5c5e" stroke-width="1"/>
<rect x="355.60" y="152.0" width="1.5" height="2.0" fill="#d04a38" stroke="#5b1a13" stroke-width="0.8"/>
<line x1="358.60" y1="141.0" x2="358.60" y2="155.5" stroke="#5c5c5e" stroke-width="1"/>
<rect x="357.85" y="145.5" width="1.5" height="8.5" fill="#4f9670" stroke="#225437" stroke-width="0.8"/>
<line x1="360.85" y1="131.0" x2="360.85" y2="146.0" stroke="#5c5c5e" stroke-width="1"/>
<rect x="360.10" y="132.0" width="1.5" height="13.5" fill="#4f9670" stroke="#225437" stroke-width="0.8"/>
<line x1="363.10" y1="130.0" x2="363.10" y2="139.5" stroke="#5c5c5e" stroke-width="1"/>
<rect x="362.35" y="132.0" width="1.5" height="7.0" fill="#d04a38" stroke="#5b1a13" stroke-width="0.8"/>
<line x1="365.35" y1="135.5" x2="365.35" y2="143.0" stroke="#5c5c5e" stroke-width="1"/>
<rect x="364.60" y="139.0" width="1.5" height="3.0" fill="#d04a38" stroke="#5b1a13" stroke-width="0.8"/>
<line x1="367.60" y1="138.0" x2="367.60" y2="147.5" stroke="#5c5c5e" stroke-width="1"/>
<rect x="366.85" y="139.0" width="1.5" height="3.0" fill="#4f9670" stroke="#225437" stroke-width="0.8"/>
<line x1="369.85" y1="135.0" x2="369.85" y2="139.5" stroke="#5c5c5e" stroke-width="1"/>
<rect x="369.10" y="136.0" width="1.5" height="3.0" fill="#4f9670" stroke="#225437" stroke-width="0.8"/>
<line x1="372.10" y1="120.0" x2="372.10" y2="137.0" stroke="#5c5c5e" stroke-width="1"/>
<rect x="371.35" y="120.6" width="1.5" height="16.0" fill="#4f9670" stroke="#225437" stroke-width="0.8"/>
<line x1="374.35" y1="110.5" x2="374.35" y2="121.5" stroke="#5c5c5e" stroke-width="1"/>
<rect x="373.60" y="117.5" width="1.5" height="3.5" fill="#4f9670" stroke="#225437" stroke-width="0.8"/>
<line x1="376.60" y1="115.0" x2="376.60" y2="125.0" stroke="#5c5c5e" stroke-width="1"/>
<rect x="375.85" y="117.5" width="1.5" height="4.0" fill="#d04a38" stroke="#5b1a13" stroke-width="0.8"/>
<line x1="378.85" y1="116.0" x2="378.85" y2="124.5" stroke="#5c5c5e" stroke-width="1"/>
<rect x="378.10" y="118.5" width="1.5" height="3.0" fill="#4f9670" stroke="#225437" stroke-width="0.8"/>
<line x1="381.10" y1="110.5" x2="381.10" y2="119.0" stroke="#5c5c5e" stroke-width="1"/>
<rect x="380.35" y="117.5" width="1.5" height="1.3" fill="#4f9670" stroke="#225437" stroke-width="0.8"/>
<line x1="383.35" y1="113.0" x2="383.35" y2="121.5" stroke="#5c5c5e" stroke-width="1"/>
<rect x="382.60" y="114.0" width="1.5" height="4.0" fill="#4f9670" stroke="#225437" stroke-width="0.8"/>
<line x1="385.60" y1="110.5" x2="385.60" y2="119.0" stroke="#5c5c5e" stroke-width="1"/>
<rect x="384.85" y="113.0" width="1.5" height="1.5" fill="#4f9670" stroke="#225437" stroke-width="0.8"/>
<line x1="387.85" y1="112.5" x2="387.85" y2="133.6" stroke="#5c5c5e" stroke-width="1"/>
<rect x="387.10" y="113.0" width="1.5" height="18.6" fill="#d04a38" stroke="#5b1a13" stroke-width="0.8"/>
<line x1="390.10" y1="115.0" x2="390.10" y2="132.0" stroke="#5c5c5e" stroke-width="1"/>
<rect x="389.35" y="121.0" width="1.5" height="10.6" fill="#4f9670" stroke="#225437" stroke-width="0.8"/>
<line x1="392.35" y1="119.0" x2="392.35" y2="144.5" stroke="#5c5c5e" stroke-width="1"/>
<rect x="391.60" y="121.0" width="1.5" height="15.0" fill="#d04a38" stroke="#5b1a13" stroke-width="0.8"/>
<line x1="394.60" y1="121.5" x2="394.60" y2="140.0" stroke="#5c5c5e" stroke-width="1"/>
<rect x="393.85" y="135.9" width="1.5" height="1.0" fill="#d04a38" stroke="#5b1a13" stroke-width="0.8"/>
<line x1="396.85" y1="133.0" x2="396.85" y2="146.0" stroke="#5c5c5e" stroke-width="1"/>
<rect x="396.10" y="136.3" width="1.5" height="2.5" fill="#d04a38" stroke="#5b1a13" stroke-width="0.8"/>
<line x1="399.10" y1="133.0" x2="399.10" y2="151.0" stroke="#5c5c5e" stroke-width="1"/>
<rect x="398.35" y="138.8" width="1.5" height="11.6" fill="#d04a38" stroke="#5b1a13" stroke-width="0.8"/>
<line x1="401.35" y1="148.0" x2="401.35" y2="158.5" stroke="#5c5c5e" stroke-width="1"/>
<rect x="400.60" y="150.3" width="1.5" height="1.0" fill="#d04a38" stroke="#5b1a13" stroke-width="0.8"/>
<line x1="403.60" y1="150.0" x2="403.60" y2="184.5" stroke="#5c5c5e" stroke-width="1"/>
<rect x="402.85" y="150.4" width="1.5" height="26.2" fill="#d04a38" stroke="#5b1a13" stroke-width="0.8"/>
<line x1="405.85" y1="166.5" x2="405.85" y2="184.5" stroke="#5c5c5e" stroke-width="1"/>
<rect x="405.10" y="169.0" width="1.5" height="7.6" fill="#4f9670" stroke="#225437" stroke-width="0.8"/>
<line x1="408.10" y1="168.5" x2="408.10" y2="195.0" stroke="#5c5c5e" stroke-width="1"/>
<rect x="407.35" y="169.0" width="1.5" height="25.6" fill="#d04a38" stroke="#5b1a13" stroke-width="0.8"/>
<line x1="410.35" y1="190.0" x2="410.35" y2="204.6" stroke="#5c5c5e" stroke-width="1"/>
<rect x="409.60" y="194.0" width="1.5" height="2.0" fill="#d04a38" stroke="#5b1a13" stroke-width="0.8"/>
<line x1="412.60" y1="185.5" x2="412.60" y2="196.0" stroke="#5c5c5e" stroke-width="1"/>
<rect x="411.85" y="186.0" width="1.5" height="9.6" fill="#4f9670" stroke="#225437" stroke-width="0.8"/>
<line x1="414.85" y1="185.5" x2="414.85" y2="204.0" stroke="#5c5c5e" stroke-width="1"/>
<rect x="414.10" y="186.0" width="1.5" height="16.0" fill="#d04a38" stroke="#5b1a13" stroke-width="0.8"/>
<line x1="417.10" y1="196.0" x2="417.10" y2="203.0" stroke="#5c5c5e" stroke-width="1"/>
<rect x="416.35" y="200.0" width="1.5" height="2.6" fill="#4f9670" stroke="#225437" stroke-width="0.8"/>
<line x1="419.35" y1="195.5" x2="419.35" y2="204.0" stroke="#5c5c5e" stroke-width="1"/>
<rect x="418.60" y="200.0" width="1.5" height="3.6" fill="#d04a38" stroke="#5b1a13" stroke-width="0.8"/>
<line x1="421.60" y1="202.0" x2="421.60" y2="206.6" stroke="#5c5c5e" stroke-width="1"/>
<rect x="420.85" y="203.0" width="1.5" height="1.0" fill="#4f9670" stroke="#225437" stroke-width="0.8"/>
<line x1="423.85" y1="199.0" x2="423.85" y2="204.0" stroke="#5c5c5e" stroke-width="1"/>
<rect x="423.10" y="202.0" width="1.5" height="1.3" fill="#4f9670" stroke="#225437" stroke-width="0.8"/>
<line x1="426.10" y1="199.0" x2="426.10" y2="205.5" stroke="#5c5c5e" stroke-width="1"/>
<rect x="425.35" y="202.0" width="1.5" height="3.0" fill="#d04a38" stroke="#5b1a13" stroke-width="0.8"/>
<line x1="428.35" y1="199.0" x2="428.35" y2="205.5" stroke="#5c5c5e" stroke-width="1"/>
<rect x="427.60" y="201.6" width="1.5" height="3.4" fill="#4f9670" stroke="#225437" stroke-width="0.8"/>
<line x1="430.60" y1="198.0" x2="430.60" y2="205.6" stroke="#5c5c5e" stroke-width="1"/>
<rect x="429.85" y="199.0" width="1.5" height="3.0" fill="#4f9670" stroke="#225437" stroke-width="0.8"/>
<line x1="432.85" y1="189.0" x2="432.85" y2="200.0" stroke="#5c5c5e" stroke-width="1"/>
<rect x="432.10" y="192.0" width="1.5" height="7.6" fill="#4f9670" stroke="#225437" stroke-width="0.8"/>
<line x1="435.10" y1="189.0" x2="435.10" y2="195.0" stroke="#5c5c5e" stroke-width="1"/>
<rect x="434.35" y="192.0" width="1.5" height="2.3" fill="#d04a38" stroke="#5b1a13" stroke-width="0.8"/>
<line x1="437.35" y1="192.0" x2="437.35" y2="204.0" stroke="#5c5c5e" stroke-width="1"/>
<rect x="436.60" y="194.0" width="1.5" height="9.6" fill="#d04a38" stroke="#5b1a13" stroke-width="0.8"/>
<line x1="439.60" y1="194.0" x2="439.60" y2="204.0" stroke="#5c5c5e" stroke-width="1"/>
<rect x="438.85" y="196.0" width="1.5" height="7.6" fill="#4f9670" stroke="#225437" stroke-width="0.8"/>
<line x1="441.85" y1="195.0" x2="441.85" y2="219.5" stroke="#5c5c5e" stroke-width="1"/>
<rect x="441.10" y="196.0" width="1.5" height="14.0" fill="#d04a38" stroke="#5b1a13" stroke-width="0.8"/>
<line x1="444.10" y1="190.5" x2="444.10" y2="210.5" stroke="#5c5c5e" stroke-width="1"/>
<rect x="443.35" y="198.0" width="1.5" height="12.0" fill="#4f9670" stroke="#225437" stroke-width="0.8"/>
<line x1="446.35" y1="185.5" x2="446.35" y2="200.6" stroke="#5c5c5e" stroke-width="1"/>
<rect x="445.60" y="195.6" width="1.5" height="2.7" fill="#4f9670" stroke="#225437" stroke-width="0.8"/>
<line x1="448.60" y1="190.0" x2="448.60" y2="201.6" stroke="#5c5c5e" stroke-width="1"/>
<rect x="447.85" y="193.0" width="1.5" height="3.0" fill="#4f9670" stroke="#225437" stroke-width="0.8"/>
<line x1="450.85" y1="190.5" x2="450.85" y2="202.0" stroke="#5c5c5e" stroke-width="1"/>
<rect x="450.10" y="193.0" width="1.5" height="7.0" fill="#d04a38" stroke="#5b1a13" stroke-width="0.8"/>
<line x1="453.10" y1="193.5" x2="453.10" y2="206.0" stroke="#5c5c5e" stroke-width="1"/>
<rect x="452.35" y="200.0" width="1.5" height="5.6" fill="#d04a38" stroke="#5b1a13" stroke-width="0.8"/>
<line x1="455.35" y1="194.5" x2="455.35" y2="247.0" stroke="#5c5c5e" stroke-width="1"/>
<rect x="454.60" y="205.6" width="1.5" height="26.0" fill="#d04a38" stroke="#5b1a13" stroke-width="0.8"/>
<line x1="457.60" y1="229.0" x2="457.60" y2="235.0" stroke="#5c5c5e" stroke-width="1"/>
<rect x="456.85" y="231.6" width="1.5" height="1.0" fill="#d04a38" stroke="#5b1a13" stroke-width="0.8"/>
<line x1="459.85" y1="203.0" x2="459.85" y2="234.6" stroke="#5c5c5e" stroke-width="1"/>
<rect x="459.10" y="206.0" width="1.5" height="26.0" fill="#4f9670" stroke="#225437" stroke-width="0.8"/>
<line x1="462.10" y1="203.0" x2="462.10" y2="216.0" stroke="#5c5c5e" stroke-width="1"/>
<rect x="461.35" y="206.0" width="1.5" height="2.5" fill="#d04a38" stroke="#5b1a13" stroke-width="0.8"/>
<line x1="464.35" y1="208.0" x2="464.35" y2="224.5" stroke="#5c5c5e" stroke-width="1"/>
<rect x="463.60" y="208.5" width="1.5" height="15.5" fill="#d04a38" stroke="#5b1a13" stroke-width="0.8"/>
<line x1="466.60" y1="217.5" x2="466.60" y2="227.5" stroke="#5c5c5e" stroke-width="1"/>
<rect x="465.85" y="224.0" width="1.5" height="3.0" fill="#d04a38" stroke="#5b1a13" stroke-width="0.8"/>
<line x1="468.85" y1="222.0" x2="468.85" y2="241.5" stroke="#5c5c5e" stroke-width="1"/>
<rect x="468.10" y="227.0" width="1.5" height="14.0" fill="#d04a38" stroke="#5b1a13" stroke-width="0.8"/>
<line x1="471.10" y1="238.0" x2="471.10" y2="244.6" stroke="#5c5c5e" stroke-width="1"/>
<rect x="470.35" y="239.0" width="1.5" height="2.0" fill="#4f9670" stroke="#225437" stroke-width="0.8"/>
<line x1="473.35" y1="237.0" x2="473.35" y2="241.0" stroke="#5c5c5e" stroke-width="1"/>
<rect x="472.60" y="239.0" width="1.5" height="1.0" fill="#d04a38" stroke="#5b1a13" stroke-width="0.8"/>
<line x1="475.60" y1="239.0" x2="475.60" y2="242.5" stroke="#5c5c5e" stroke-width="1"/>
<rect x="474.85" y="239.6" width="1.5" height="2.4" fill="#4f9670" stroke="#225437" stroke-width="0.8"/>
<line x1="477.85" y1="239.0" x2="477.85" y2="245.0" stroke="#5c5c5e" stroke-width="1"/>
<rect x="477.10" y="239.6" width="1.5" height="5.0" fill="#d04a38" stroke="#5b1a13" stroke-width="0.8"/>
<line x1="480.10" y1="239.5" x2="480.10" y2="246.0" stroke="#5c5c5e" stroke-width="1"/>
<rect x="479.35" y="242.0" width="1.5" height="2.6" fill="#4f9670" stroke="#225437" stroke-width="0.8"/>
<line x1="482.35" y1="237.5" x2="482.35" y2="247.0" stroke="#5c5c5e" stroke-width="1"/>
<rect x="481.60" y="240.0" width="1.5" height="2.6" fill="#4f9670" stroke="#225437" stroke-width="0.8"/>
<line x1="484.60" y1="229.0" x2="484.60" y2="241.0" stroke="#5c5c5e" stroke-width="1"/>
<rect x="483.85" y="231.0" width="1.5" height="9.5" fill="#4f9670" stroke="#225437" stroke-width="0.8"/>
<line x1="486.85" y1="230.5" x2="486.85" y2="235.0" stroke="#5c5c5e" stroke-width="1"/>
<rect x="486.10" y="231.0" width="1.5" height="3.6" fill="#d04a38" stroke="#5b1a13" stroke-width="0.8"/>
<line x1="489.10" y1="232.0" x2="489.10" y2="242.0" stroke="#5c5c5e" stroke-width="1"/>
<rect x="488.35" y="234.6" width="1.5" height="5.4" fill="#d04a38" stroke="#5b1a13" stroke-width="0.8"/>
<line x1="491.35" y1="236.5" x2="491.35" y2="240.5" stroke="#5c5c5e" stroke-width="1"/>
<rect x="490.60" y="238.6" width="1.5" height="1.6" fill="#4f9670" stroke="#225437" stroke-width="0.8"/>
<line x1="493.60" y1="236.0" x2="493.60" y2="255.0" stroke="#5c5c5e" stroke-width="1"/>
<rect x="492.85" y="238.5" width="1.5" height="16.0" fill="#d04a38" stroke="#5b1a13" stroke-width="0.8"/>
<line x1="495.85" y1="243.0" x2="495.85" y2="255.0" stroke="#5c5c5e" stroke-width="1"/>
<rect x="495.10" y="252.5" width="1.5" height="2.0" fill="#4f9670" stroke="#225437" stroke-width="0.8"/>
<line x1="498.10" y1="250.0" x2="498.10" y2="265.0" stroke="#5c5c5e" stroke-width="1"/>
<rect x="497.35" y="252.5" width="1.5" height="8.1" fill="#d04a38" stroke="#5b1a13" stroke-width="0.8"/>
<line x1="500.35" y1="260.0" x2="500.35" y2="276.5" stroke="#5c5c5e" stroke-width="1"/>
<rect x="499.60" y="260.6" width="1.5" height="14.0" fill="#d04a38" stroke="#5b1a13" stroke-width="0.8"/>
<line x1="502.60" y1="259.0" x2="502.60" y2="275.0" stroke="#5c5c5e" stroke-width="1"/>
<rect x="501.85" y="260.6" width="1.5" height="14.0" fill="#4f9670" stroke="#225437" stroke-width="0.8"/>
<line x1="504.85" y1="260.0" x2="504.85" y2="272.6" stroke="#5c5c5e" stroke-width="1"/>
<rect x="504.10" y="260.6" width="1.5" height="10.0" fill="#d04a38" stroke="#5b1a13" stroke-width="0.8"/>
<line x1="507.10" y1="267.0" x2="507.10" y2="273.6" stroke="#5c5c5e" stroke-width="1"/>
<rect x="506.35" y="267.6" width="1.5" height="3.0" fill="#4f9670" stroke="#225437" stroke-width="0.8"/>
<line x1="509.35" y1="252.0" x2="509.35" y2="268.0" stroke="#5c5c5e" stroke-width="1"/>
<rect x="508.60" y="256.0" width="1.5" height="11.6" fill="#4f9670" stroke="#225437" stroke-width="0.8"/>
<line x1="511.60" y1="251.0" x2="511.60" y2="269.6" stroke="#5c5c5e" stroke-width="1"/>
<rect x="510.85" y="256.0" width="1.5" height="10.6" fill="#d04a38" stroke="#5b1a13" stroke-width="0.8"/>
<line x1="513.85" y1="235.0" x2="513.85" y2="267.0" stroke="#5c5c5e" stroke-width="1"/>
<rect x="513.10" y="264.0" width="1.5" height="2.6" fill="#4f9670" stroke="#225437" stroke-width="0.8"/>
<line x1="516.10" y1="262.0" x2="516.10" y2="274.0" stroke="#5c5c5e" stroke-width="1"/>
<rect x="515.35" y="264.0" width="1.5" height="1.0" fill="#4f9670" stroke="#225437" stroke-width="0.8"/>
<line x1="518.35" y1="262.5" x2="518.35" y2="273.6" stroke="#5c5c5e" stroke-width="1"/>
<rect x="517.60" y="264.0" width="1.5" height="8.0" fill="#d04a38" stroke="#5b1a13" stroke-width="0.8"/>
<line x1="520.60" y1="253.0" x2="520.60" y2="272.5" stroke="#5c5c5e" stroke-width="1"/>
<rect x="519.85" y="256.6" width="1.5" height="15.4" fill="#4f9670" stroke="#225437" stroke-width="0.8"/>
<line x1="522.85" y1="249.0" x2="522.85" y2="263.5" stroke="#5c5c5e" stroke-width="1"/>
<rect x="522.10" y="256.6" width="1.5" height="6.4" fill="#d04a38" stroke="#5b1a13" stroke-width="0.8"/>
<line x1="525.10" y1="259.5" x2="525.10" y2="264.5" stroke="#5c5c5e" stroke-width="1"/>
<rect x="524.35" y="263.0" width="1.5" height="1.0" fill="#d04a38" stroke="#5b1a13" stroke-width="0.8"/>
<line x1="527.35" y1="260.5" x2="527.35" y2="268.0" stroke="#5c5c5e" stroke-width="1"/>
<rect x="526.60" y="264.0" width="1.5" height="3.6" fill="#d04a38" stroke="#5b1a13" stroke-width="0.8"/>
<line x1="529.60" y1="261.5" x2="529.60" y2="268.0" stroke="#5c5c5e" stroke-width="1"/>
<rect x="528.85" y="264.0" width="1.5" height="3.6" fill="#4f9670" stroke="#225437" stroke-width="0.8"/>
<line x1="531.85" y1="260.0" x2="531.85" y2="264.5" stroke="#5c5c5e" stroke-width="1"/>
<rect x="531.10" y="260.3" width="1.5" height="3.7" fill="#4f9670" stroke="#225437" stroke-width="0.8"/>
<line x1="534.10" y1="257.0" x2="534.10" y2="261.0" stroke="#5c5c5e" stroke-width="1"/>
<rect x="533.35" y="257.6" width="1.5" height="3.0" fill="#4f9670" stroke="#225437" stroke-width="0.8"/>
<line x1="536.35" y1="250.0" x2="536.35" y2="266.0" stroke="#5c5c5e" stroke-width="1"/>
<rect x="535.60" y="251.5" width="1.5" height="6.5" fill="#4f9670" stroke="#225437" stroke-width="0.8"/>
<line x1="538.60" y1="250.5" x2="538.60" y2="267.5" stroke="#5c5c5e" stroke-width="1"/>
<rect x="537.85" y="251.5" width="1.5" height="15.5" fill="#d04a38" stroke="#5b1a13" stroke-width="0.8"/>
<line x1="540.85" y1="266.0" x2="540.85" y2="278.0" stroke="#5c5c5e" stroke-width="1"/>
<rect x="540.10" y="267.0" width="1.5" height="8.0" fill="#d04a38" stroke="#5b1a13" stroke-width="0.8"/>
<line x1="543.10" y1="268.0" x2="543.10" y2="278.5" stroke="#5c5c5e" stroke-width="1"/>
<rect x="542.35" y="275.0" width="1.5" height="3.0" fill="#d04a38" stroke="#5b1a13" stroke-width="0.8"/>
<line x1="545.35" y1="277.0" x2="545.35" y2="285.6" stroke="#5c5c5e" stroke-width="1"/>
<rect x="544.60" y="278.0" width="1.5" height="3.6" fill="#d04a38" stroke="#5b1a13" stroke-width="0.8"/>
<line x1="547.60" y1="275.0" x2="547.60" y2="282.6" stroke="#5c5c5e" stroke-width="1"/>
<rect x="546.85" y="275.6" width="1.5" height="6.0" fill="#4f9670" stroke="#225437" stroke-width="0.8"/>
<line x1="549.85" y1="264.0" x2="549.85" y2="282.6" stroke="#5c5c5e" stroke-width="1"/>
<rect x="549.10" y="272.0" width="1.5" height="3.6" fill="#4f9670" stroke="#225437" stroke-width="0.8"/>
<line x1="552.10" y1="248.0" x2="552.10" y2="273.0" stroke="#5c5c5e" stroke-width="1"/>
<rect x="551.35" y="266.5" width="1.5" height="6.1" fill="#4f9670" stroke="#225437" stroke-width="0.8"/>
<line x1="554.35" y1="252.0" x2="554.35" y2="267.0" stroke="#5c5c5e" stroke-width="1"/>
<rect x="553.60" y="261.0" width="1.5" height="5.5" fill="#4f9670" stroke="#225437" stroke-width="0.8"/>
<line x1="556.60" y1="252.5" x2="556.60" y2="270.5" stroke="#5c5c5e" stroke-width="1"/>
<rect x="555.85" y="261.0" width="1.5" height="5.0" fill="#d04a38" stroke="#5b1a13" stroke-width="0.8"/>
<line x1="558.85" y1="252.5" x2="558.85" y2="270.5" stroke="#5c5c5e" stroke-width="1"/>
<rect x="558.10" y="253.0" width="1.5" height="13.0" fill="#4f9670" stroke="#225437" stroke-width="0.8"/>
<line x1="561.10" y1="239.0" x2="561.10" y2="253.5" stroke="#5c5c5e" stroke-width="1"/>
<rect x="560.35" y="248.0" width="1.5" height="5.0" fill="#4f9670" stroke="#225437" stroke-width="0.8"/>
<line x1="563.35" y1="242.6" x2="563.35" y2="252.5" stroke="#5c5c5e" stroke-width="1"/>
<rect x="562.60" y="248.0" width="1.5" height="4.0" fill="#d04a38" stroke="#5b1a13" stroke-width="0.8"/>
<line x1="565.60" y1="251.0" x2="565.60" y2="265.0" stroke="#5c5c5e" stroke-width="1"/>
<rect x="564.85" y="251.5" width="1.5" height="13.0" fill="#d04a38" stroke="#5b1a13" stroke-width="0.8"/>
<line x1="567.85" y1="252.0" x2="567.85" y2="272.0" stroke="#5c5c5e" stroke-width="1"/>
<rect x="567.10" y="261.0" width="1.5" height="3.5" fill="#4f9670" stroke="#225437" stroke-width="0.8"/>
<line x1="570.10" y1="223.0" x2="570.10" y2="261.5" stroke="#5c5c5e" stroke-width="1"/>
<rect x="569.35" y="227.0" width="1.5" height="34.0" fill="#4f9670" stroke="#225437" stroke-width="0.8"/>
<line x1="572.35" y1="214.5" x2="572.35" y2="236.0" stroke="#5c5c5e" stroke-width="1"/>
<rect x="571.60" y="221.0" width="1.5" height="6.0" fill="#4f9670" stroke="#225437" stroke-width="0.8"/>
<line x1="574.60" y1="219.0" x2="574.60" y2="231.0" stroke="#5c5c5e" stroke-width="1"/>
<rect x="573.85" y="221.0" width="1.5" height="9.4" fill="#d04a38" stroke="#5b1a13" stroke-width="0.8"/>
<line x1="576.85" y1="230.0" x2="576.85" y2="260.0" stroke="#5c5c5e" stroke-width="1"/>
<rect x="576.10" y="230.4" width="1.5" height="29.1" fill="#d04a38" stroke="#5b1a13" stroke-width="0.8"/>
<line x1="579.10" y1="255.0" x2="579.10" y2="269.6" stroke="#5c5c5e" stroke-width="1"/>
<rect x="578.35" y="258.0" width="1.5" height="1.5" fill="#d04a38" stroke="#5b1a13" stroke-width="0.8"/>
<line x1="581.35" y1="257.0" x2="581.35" y2="262.5" stroke="#5c5c5e" stroke-width="1"/>
<rect x="580.60" y="258.0" width="1.5" height="4.0" fill="#d04a38" stroke="#5b1a13" stroke-width="0.8"/>
<line x1="583.60" y1="261.0" x2="583.60" y2="264.0" stroke="#5c5c5e" stroke-width="1"/>
<rect x="582.85" y="262.0" width="1.5" height="1.5" fill="#d04a38" stroke="#5b1a13" stroke-width="0.8"/>
<line x1="585.85" y1="253.0" x2="585.85" y2="264.0" stroke="#5c5c5e" stroke-width="1"/>
<rect x="585.10" y="256.5" width="1.5" height="7.0" fill="#4f9670" stroke="#225437" stroke-width="0.8"/>
<line x1="588.10" y1="256.0" x2="588.10" y2="267.0" stroke="#5c5c5e" stroke-width="1"/>
<rect x="587.35" y="256.5" width="1.5" height="10.1" fill="#d04a38" stroke="#5b1a13" stroke-width="0.8"/>
<line x1="590.35" y1="258.0" x2="590.35" y2="271.6" stroke="#5c5c5e" stroke-width="1"/>
<rect x="589.60" y="263.5" width="1.5" height="3.1" fill="#4f9670" stroke="#225437" stroke-width="0.8"/>
<line x1="592.60" y1="257.5" x2="592.60" y2="276.6" stroke="#5c5c5e" stroke-width="1"/>
<rect x="591.85" y="263.5" width="1.5" height="8.1" fill="#d04a38" stroke="#5b1a13" stroke-width="0.8"/>
<line x1="594.85" y1="265.5" x2="594.85" y2="276.6" stroke="#5c5c5e" stroke-width="1"/>
<rect x="594.10" y="266.0" width="1.5" height="5.6" fill="#4f9670" stroke="#225437" stroke-width="0.8"/>
<line x1="597.10" y1="265.0" x2="597.10" y2="270.0" stroke="#5c5c5e" stroke-width="1"/>
<rect x="596.35" y="265.8" width="1.5" height="1.2" fill="#4f9670" stroke="#225437" stroke-width="0.8"/>
<line x1="599.35" y1="242.0" x2="599.35" y2="267.0" stroke="#5c5c5e" stroke-width="1"/>
<rect x="598.60" y="257.2" width="1.5" height="9.3" fill="#4f9670" stroke="#225437" stroke-width="0.8"/>
<line x1="317.4" y1="50.86" x2="594.5" y2="301" stroke="#f44a5e" stroke-opacity="0.95" stroke-width="1.65"/>
</g>
<line x1="632.5" y1="0" x2="632.5" y2="419" stroke="#75736c" stroke-width="1"/>
<line x1="0" y1="396.5" x2="680" y2="396.5" stroke="#75736c" stroke-width="1"/>
<text x="640" y="97.5" font-size="10" textLength="31.9" lengthAdjust="spacingAndGlyphs" fill="#505050" stroke="#505050" stroke-width="0.22">0.99500</text>
<text x="640" y="131.8" font-size="10" textLength="31.9" lengthAdjust="spacingAndGlyphs" fill="#505050" stroke="#505050" stroke-width="0.22">0.99000</text>
<text x="640" y="166.0" font-size="10" textLength="31.9" lengthAdjust="spacingAndGlyphs" fill="#505050" stroke="#505050" stroke-width="0.22">0.98500</text>
<text x="640" y="200.3" font-size="10" textLength="31.9" lengthAdjust="spacingAndGlyphs" fill="#505050" stroke="#505050" stroke-width="0.22">0.98000</text>
<text x="640" y="234.5" font-size="10" textLength="31.9" lengthAdjust="spacingAndGlyphs" fill="#505050" stroke="#505050" stroke-width="0.22">0.97500</text>
<text x="640" y="268.8" font-size="10" textLength="31.9" lengthAdjust="spacingAndGlyphs" fill="#505050" stroke="#505050" stroke-width="0.22">0.97000</text>
<text x="640" y="303.0" font-size="10" textLength="31.9" lengthAdjust="spacingAndGlyphs" fill="#505050" stroke="#505050" stroke-width="0.22">0.96500</text>
<text x="640" y="371.5" font-size="10" textLength="31.9" lengthAdjust="spacingAndGlyphs" fill="#505050" stroke="#505050" stroke-width="0.22">0.95500</text>
<rect x="632" y="18.75" width="44.6" height="14.2" rx="1.6" fill="#0606f6"/>
<rect x="632" y="18.75" width="4" height="14.2" fill="#0606f6"/>
<text x="640.2" y="29.30" font-size="10" textLength="32" lengthAdjust="spacingAndGlyphs" fill="#fff" stroke="#fff" stroke-width="0.3">1.00506</text>
<rect x="632" y="50.30" width="44.6" height="14.2" rx="1.6" fill="#0606f6"/>
<rect x="632" y="50.30" width="4" height="14.2" fill="#0606f6"/>
<text x="640.2" y="60.85" font-size="10" textLength="32" lengthAdjust="spacingAndGlyphs" fill="#fff" stroke="#fff" stroke-width="0.3">1.00041</text>
<rect x="632" y="167.30" width="44.6" height="14.2" rx="1.6" fill="#0606f6"/>
<rect x="632" y="167.30" width="4" height="14.2" fill="#0606f6"/>
<text x="640.2" y="177.85" font-size="10" textLength="32" lengthAdjust="spacingAndGlyphs" fill="#fff" stroke="#fff" stroke-width="0.3">0.98338</text>
<rect x="632" y="278.50" width="44.6" height="14.2" rx="1.6" fill="#0606f6"/>
<rect x="632" y="278.50" width="4" height="14.2" fill="#0606f6"/>
<text x="640.2" y="289.05" font-size="10" textLength="32" lengthAdjust="spacingAndGlyphs" fill="#fff" stroke="#fff" stroke-width="0.3">0.96710</text>
<rect x="632" y="324.10" width="44.6" height="14.2" rx="1.6" fill="#0606f6"/>
<rect x="632" y="324.10" width="4" height="14.2" fill="#0606f6"/>
<text x="640.2" y="334.65" font-size="10" textLength="32" lengthAdjust="spacingAndGlyphs" fill="#fff" stroke="#fff" stroke-width="0.3">0.96045</text>
<rect x="632" y="250.80" width="44.6" height="14.2" rx="1.6" fill="#6ba583"/>
<rect x="632" y="250.80" width="4" height="14.2" fill="#6ba583"/>
<text x="640.2" y="261.35" font-size="10" textLength="32" lengthAdjust="spacingAndGlyphs" fill="#fff" stroke="#fff" stroke-width="0.3">0.97123</text>
<text transform="translate(43.2,410) scale(0.89,1)" x="0" y="0" font-size="10.1" fill="#4a4a4a" stroke="#4a4a4a" stroke-width="0.3" text-anchor="middle">28</text>
<text transform="translate(124.2,410) scale(0.89,1)" x="0" y="0" font-size="10.1" fill="#4a4a4a" stroke="#4a4a4a" stroke-width="0.3" text-anchor="middle">12:00</text>
<text transform="translate(205.2,410) scale(0.89,1)" x="0" y="0" font-size="10.1" fill="#4a4a4a" stroke="#4a4a4a" stroke-width="0.3" text-anchor="middle">Oct</text>
<text transform="translate(313.2,410) scale(0.89,1)" x="0" y="0" font-size="10.1" fill="#4a4a4a" stroke="#4a4a4a" stroke-width="0.3" text-anchor="middle">5</text>
<text transform="translate(394.7,410) scale(0.89,1)" x="0" y="0" font-size="10.1" fill="#4a4a4a" stroke="#4a4a4a" stroke-width="0.3" text-anchor="middle">12:00</text>
<text transform="translate(475.2,410) scale(0.89,1)" x="0" y="0" font-size="10.1" fill="#4a4a4a" stroke="#4a4a4a" stroke-width="0.3" text-anchor="middle">10</text>
<text transform="translate(583.2,410) scale(0.89,1)" x="0" y="0" font-size="10.1" fill="#4a4a4a" stroke="#4a4a4a" stroke-width="0.3" text-anchor="middle">12</text>
<g fill="#22252e" stroke="none"><circle cx="656.5" cy="407.75" r="3.85" fill="none" stroke="#22252e" stroke-width="1.45"/>
<polygon points="660.70,408.80 663.00,407.75 660.70,406.70"/>
<polygon points="658.73,411.46 661.10,412.35 660.21,409.98"/>
<polygon points="655.45,411.95 656.50,414.25 657.55,411.95"/>
<polygon points="652.79,409.98 651.90,412.35 654.27,411.46"/>
<polygon points="652.30,406.70 650.00,407.75 652.30,408.80"/>
<polygon points="654.27,404.04 651.90,403.15 652.79,405.52"/>
<polygon points="657.55,403.55 656.50,401.25 655.45,403.55"/>
<polygon points="660.21,405.52 661.10,403.15 658.73,404.04"/>
</g>
</svg></body></html>
